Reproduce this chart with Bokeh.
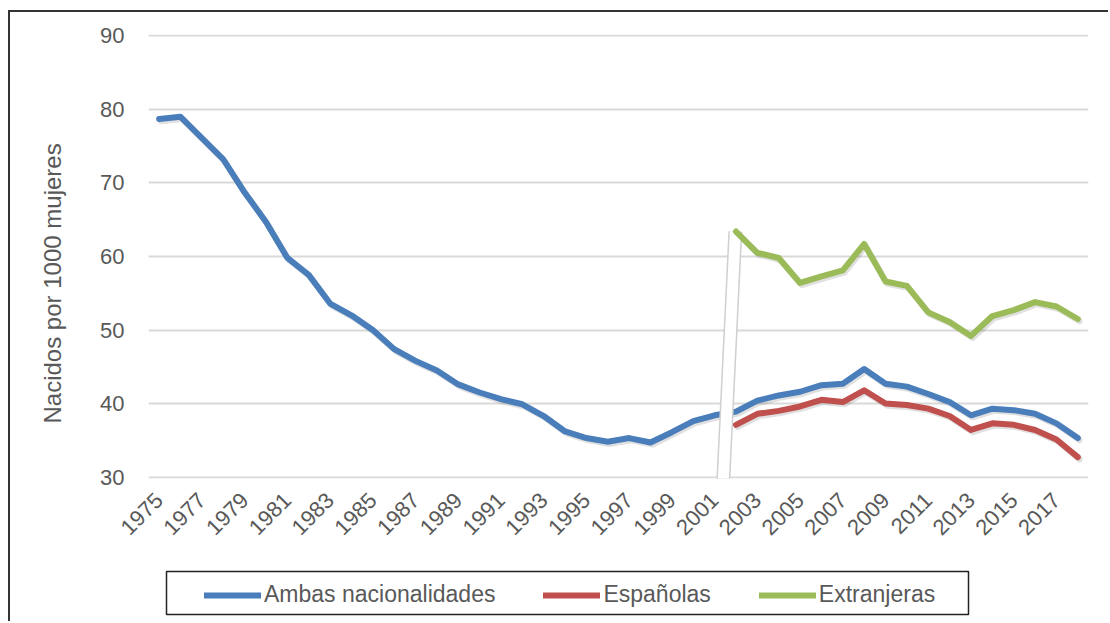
import math
from bokeh.plotting import figure
from bokeh.layouts import column
from bokeh.models import FixedTicker, Legend, LegendItem, Range1d, ColumnDataSource, Title
from bokeh.transform import dodge
from bokeh.embed import file_html
from bokeh.resources import INLINE

# ---------------- data ----------------
YEARS = list(range(1975, 2019))
AMBAS = [78.7, 79.0, 76.1, 73.2, 68.7, 64.7, 59.8, 57.5, 53.6, 52.0,
         50.0, 47.4, 45.8, 44.5, 42.6, 41.5, 40.6, 39.9, 38.3, 36.2,
         35.3, 34.8, 35.3, 34.7, 36.1, 37.6, 38.4, 38.9, 40.4, 41.1,
         41.6, 42.5, 42.7, 44.7, 42.7, 42.3, 41.3, 40.2, 38.4, 39.3,
         39.1, 38.6, 37.3, 35.3]
YEARS_ESP_EXT = list(range(2002, 2019))
ESPANOLAS = [37.1, 38.6, 39.0, 39.6, 40.5, 40.2, 41.8, 40.0, 39.8, 39.3,
             38.3, 36.4, 37.3, 37.1, 36.4, 35.1, 32.7]
EXTRANJERAS = [63.4, 60.5, 59.8, 56.4, 57.3, 58.1, 61.7, 56.6, 56.0, 52.4,
               51.1, 49.2, 51.9, 52.7, 53.8, 53.2, 51.5]
X_TICKS = list(range(1975, 2018, 2))
X_TICK_LABELS = [str(y) for y in X_TICKS]
Y_TICKS = [30, 40, 50, 60, 70, 80, 90]
SERIES_NAMES = ["Ambas nacionalidades", "Españolas", "Extranjeras"]
Y_LABEL = "Nacidos por 1000 mujeres"
# decorative break marker (white slanted band)
BREAK_X = [2001.38, 2001.97]
BREAK_Y = [28.0, 63.4]
# legend frame in the legend strip's pixel-like units
LEGEND_BOX = dict(left=18, right=820, bottom=7, top=50)

BLUE = "#4a7ebb"
RED = "#c0504d"
GREEN = "#9bbb59"
COLORS = [BLUE, RED, GREEN]
TEXT = "#595959"
FONT = "Liberation Sans"

src_a = ColumnDataSource(dict(x=YEARS, y=AMBAS))
src_e = ColumnDataSource(dict(x=YEARS_ESP_EXT, y=ESPANOLAS))
src_x = ColumnDataSource(dict(x=YEARS_ESP_EXT, y=EXTRANJERAS))

p = figure(width=1108, height=560,
           x_range=Range1d(1974.5, 2018.5), y_range=Range1d(29.8, 90.2),
           output_backend="svg", toolbar_location=None,
           min_border_left=148, min_border_right=20,
           min_border_top=34, min_border_bottom=82)
p.border_fill_color = None
p.outline_line_color = None
p.background_fill_color = "white"

# grid
p.xgrid.grid_line_color = None
p.ygrid.grid_line_color = "#d9d9d9"
p.ygrid.grid_line_width = 2
p.ygrid.ticker = FixedTicker(ticks=Y_TICKS)

# axes
p.yaxis.ticker = FixedTicker(ticks=Y_TICKS)
p.yaxis.axis_line_color = None
p.yaxis.major_tick_line_color = None
p.yaxis.minor_tick_line_color = None
p.yaxis.major_label_text_font = FONT
p.yaxis.major_label_text_font_size = "22px"
p.yaxis.major_label_text_color = TEXT
p.yaxis.major_label_standoff = 18

ylab = Title(text=Y_LABEL, align="left", offset=55, standoff=64,
             text_font=FONT, text_font_size="24px", text_font_style="normal",
             text_color=TEXT)
p.add_layout(ylab, "left")

p.xaxis.ticker = FixedTicker(ticks=X_TICKS)
p.xaxis.major_label_overrides = {t: l for t, l in zip(X_TICKS, X_TICK_LABELS)}
p.xaxis.axis_line_color = None
p.xaxis.major_tick_line_color = None
p.xaxis.minor_tick_line_color = None
p.xaxis.major_label_orientation = math.pi / 4
p.xaxis.major_label_text_font = FONT
p.xaxis.major_label_text_font_size = "22px"
p.xaxis.major_label_text_color = TEXT
p.xaxis.major_label_standoff = 12

# soft shadows
for s in (src_a, src_e, src_x):
    p.line(x=dodge("x", 0.08), y=dodge("y", -0.3),
           source=s, line_color="black", line_alpha=0.12, line_width=6,
           line_join="round", line_cap="round")

# lines
p.line("x", "y", source=src_a, line_color=BLUE, line_width=6,
       line_join="round", line_cap="round")
p.line(BREAK_X, BREAK_Y, line_color="#cfcfcf", line_width=14)
p.line(BREAK_X, BREAK_Y, line_color="white", line_width=11)
p.line("x", "y", source=src_e, line_color=RED, line_width=6,
       line_join="round", line_cap="round")
p.line("x", "y", source=src_x, line_color=GREEN, line_width=6,
       line_join="round", line_cap="round")

# ---------------- legend strip ----------------
lg = figure(width=1108, height=61, x_range=Range1d(0, 940), y_range=Range1d(0, 61),
            x_axis_type=None, y_axis_type=None,
            output_backend="svg", toolbar_location=None,
            min_border_left=0, min_border_right=0,
            min_border_top=0, min_border_bottom=0)
lg.border_fill_color = None
lg.background_fill_color = None
lg.outline_line_color = None
lg.grid.visible = False

lg.quad(left=[LEGEND_BOX["left"]], right=[LEGEND_BOX["right"]],
        bottom=[LEGEND_BOX["bottom"]], top=[LEGEND_BOX["top"]],
        fill_color="white", line_color="#222222", line_width=1.5)

items = []
for name, col in zip(SERIES_NAMES, COLORS):
    # proxy renderers, placed outside the visible range, used only for the legend keys
    r = lg.line(x=[-50, -40], y=[-50, -40], line_color=col, line_width=6, line_cap="round")
    items.append(LegendItem(label=name, renderers=[r]))

legend = Legend(items=items, orientation="horizontal", location=(56, 13),
                glyph_width=57, glyph_height=20, label_standoff=3,
                spacing=48, padding=8, margin=0,
                label_text_font=FONT, label_text_font_size="23px",
                label_text_color=TEXT,
                border_line_color=None,
                background_fill_color=None)
lg.add_layout(legend)

layout = column(p, lg, spacing=0)
layout.styles = {"box-shadow": "inset 8px 10px 0 0 white, inset 10px 12px 0 0 #333333"}

open("out.html", "w").write(file_html(layout, INLINE))
